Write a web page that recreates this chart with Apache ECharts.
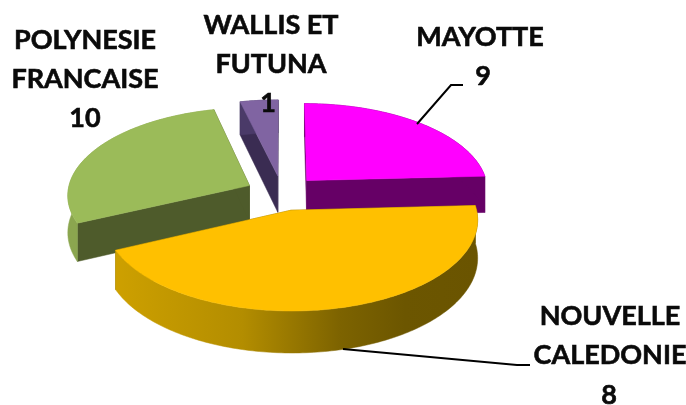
<!DOCTYPE html>
<html>
<head>
<meta charset="utf-8">
<style>html,body{margin:0;padding:0;background:#fff}#c{width:686px;height:405px}</style>
<script src="https://cdn.jsdelivr.net/npm/echarts@6/dist/echarts.min.js"></script>
</head>
<body>
<div id="c"></div>
<script>
// Data
const categories = ['MAYOTTE', 'NOUVELLE\nCALEDONIE', 'POLYNESIE\nFRANCAISE', 'WALLIS ET\nFUTUNA'];
const printedValues = [9, 8, 10, 1];
// The drawn slice sizes do not follow the printed values; these are read from the slices (degrees).
const sliceSizes = [87, 158, 101.5, 13.5];

// Styles
const topColors = ['#ff00ff', '#ffc000', '#9bbb59', '#8064a2'];
const faceColors = ['#660066', '#7a6000', '#4e5b2b', '#3a2c52'];
const rimColors = ['#660066', null, '#8ba64f', '#4a3a68'];
const rimStops = [[0, '#cda000'], [0.35, '#b38d00'], [0.62, '#7d6300'], [0.8, '#6c5600'], [1, '#6a5400']];

// Layout
const drawOrder = [3, 2, 0, 1];
const view = { cx: 282, cy: 193, rx: 182, ry: 87, k: 0.1, depth: 37, explode: 0.2 };
const nameCentres = [[480, 37], [610, 336], [85, 60], [271, 45]];
const valueCentres = [[483, 76], [609, 395], [85, 118], [268, 103]];
const leaders = [
  [[417, 124], [451, 85], [463, 85]],
  [[343, 349], [517, 365], [530, 365]]
];

const rad = d => d * Math.PI / 180;
function project(X, V, drop) {
  const s = 1 / (1 - view.k * V);
  return [view.cx + view.rx * X * s, view.cy + view.ry * V * s + (drop ? view.depth * s : 0)];
}
const starts = [];
sliceSizes.reduce((sum, v, i) => (starts[i] = sum, sum + v), 0);

const seriesData = drawOrder.map(i => [i, starts[i], starts[i] + sliceSizes[i]]);

function renderItem(params, api) {
  const i = api.value(0), a0 = api.value(1), a1 = api.value(2);
  const mid = rad((a0 + a1) / 2);
  const ox = view.explode * Math.sin(mid), ov = -view.explode * Math.cos(mid);
  const pt = (a, drop) => project(ox + Math.sin(rad(a)), ov - Math.cos(rad(a)), drop);
  const apex = project(ox, ov, false), apexB = project(ox, ov, true);
  const arcTop = [], arcBot = [];
  const steps = Math.max(6, Math.ceil(a1 - a0));
  for (let n = 0; n <= steps; n++) {
    const a = a0 + (a1 - a0) * n / steps;
    arcTop.push(pt(a, false));
    arcBot.push(pt(a, true));
  }
  const xs = arcBot.map(p => p[0]);
  const rimFill = rimColors[i] || {
    type: 'linear', global: true,
    x: Math.min.apply(null, xs), y: 0, x2: Math.max.apply(null, xs), y2: 0,
    colorStops: rimStops.map(s => ({ offset: s[0], color: s[1] }))
  };
  const poly = (points, fill) => ({ type: 'polygon', shape: { points }, style: { fill, stroke: fill, lineWidth: 0.5 } });
  return {
    type: 'group',
    children: [
      poly([apex, arcTop[0], arcBot[0], apexB], faceColors[i]),
      poly([apex, arcTop[steps], arcBot[steps], apexB], faceColors[i]),
      poly(arcTop.concat(arcBot.slice().reverse()), rimFill),
      poly([apex].concat(arcTop), topColors[i])
    ]
  };
}

const textStyle = (text) => ({
  text,
  font: 'bold 27px Lato',
  lineHeight: 39,
  fill: '#0a0a0a',
  stroke: '#0a0a0a',
  lineWidth: 0.6,
  align: 'center',
  verticalAlign: 'middle'
});
const nameGraphics = categories.map((name, i) => ({
  type: 'text', z: 100, x: nameCentres[i][0], y: nameCentres[i][1], style: textStyle(name)
}));
const valueGraphics = printedValues.map((v, i) => ({
  type: 'text', z: 100, x: valueCentres[i][0], y: valueCentres[i][1], style: textStyle(String(v))
}));
const leaderGraphics = leaders.map(points => ({
  type: 'polyline', z: 90,
  shape: { points },
  style: { stroke: '#000', lineWidth: 2, fill: null }
}));

const chart = echarts.init(document.getElementById('c'), null, { renderer: 'canvas' });
chart.setOption({
  animation: false,
  backgroundColor: '#fff',
  series: [{
    type: 'custom',
    coordinateSystem: 'none',
    silent: true,
    renderItem,
    data: seriesData
  }],
  graphic: { elements: leaderGraphics.concat(nameGraphics, valueGraphics) }
});
</script>
</body>
</html>
